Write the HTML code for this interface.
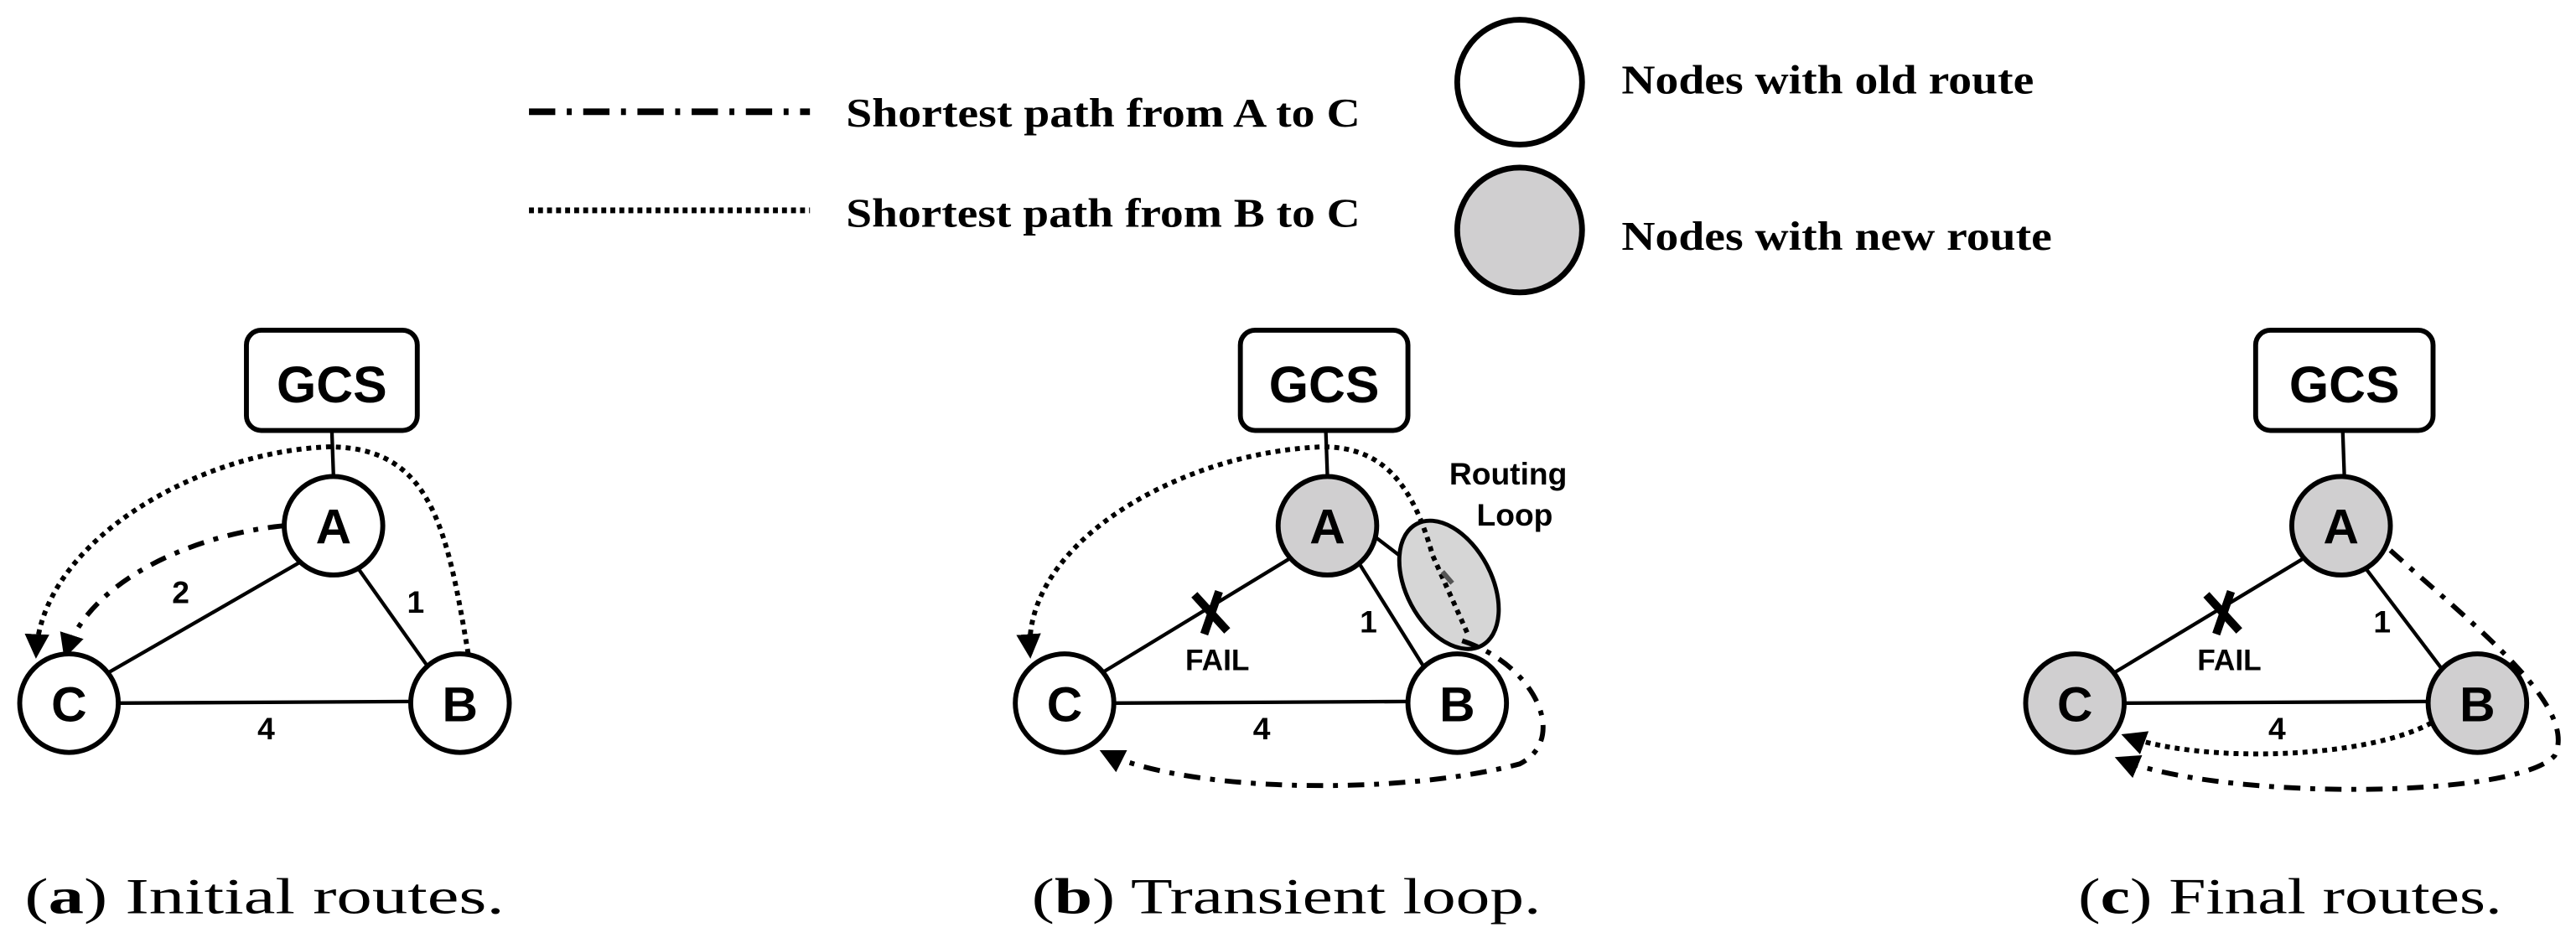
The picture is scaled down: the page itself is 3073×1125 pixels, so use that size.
<!DOCTYPE html>
<html><head><meta charset="utf-8"><style>
html,body{margin:0;padding:0;background:#fff;}
svg{display:block;}
.sans{font-family:"Liberation Sans",sans-serif;font-weight:bold;}
.serif{font-family:"Liberation Serif",serif;}
</style></head><body>
<svg width="3073" height="1125" viewBox="0 0 1568 574" xmlns="http://www.w3.org/2000/svg">
<defs>
<marker id="ar" viewBox="0 0 10 10" refX="8" refY="5" markerWidth="5" markerHeight="5" orient="auto" markerUnits="strokeWidth">
<path d="M0,0 L10,5 L0,10 z" fill="#000"/></marker>
</defs>
<rect width="1568" height="574" fill="#fff"/>
<!-- legend -->
<line x1="322" y1="68" x2="493" y2="68" stroke="#000" stroke-width="4" stroke-dasharray="16,7,3,7"/>
<line x1="322" y1="128" x2="493" y2="128" stroke="#000" stroke-width="3.5" stroke-dasharray="3,2.5"/>
<text x="515" y="77" class="serif" font-weight="bold" font-size="25" textLength="313" lengthAdjust="spacingAndGlyphs">Shortest path from A to C</text>
<text x="515" y="138" class="serif" font-weight="bold" font-size="25" textLength="313" lengthAdjust="spacingAndGlyphs">Shortest path from B to C</text>
<circle cx="925" cy="50" r="38" fill="#fff" stroke="#000" stroke-width="3.5"/>
<circle cx="925" cy="140" r="38" fill="#d0cfd0" stroke="#000" stroke-width="3.5"/>
<text x="987" y="57" class="serif" font-weight="bold" font-size="25" textLength="251" lengthAdjust="spacingAndGlyphs">Nodes with old route</text>
<text x="987" y="152" class="serif" font-weight="bold" font-size="25" textLength="262" lengthAdjust="spacingAndGlyphs">Nodes with new route</text>

<!-- panel a -->
<g stroke="#000" stroke-width="2.2" fill="none">
<line x1="202" y1="262" x2="203" y2="290"/>
<line x1="183" y1="342" x2="65" y2="410"/>
<line x1="218" y1="346" x2="262" y2="408"/>
<line x1="72" y1="428" x2="250" y2="427"/>
</g>
<rect x="150" y="201" width="104" height="61" rx="9" fill="#fff" stroke="#000" stroke-width="3"/>
<text x="202" y="245" text-anchor="middle" class="sans" font-size="31">GCS</text>
<path d="M285,398 C272,320 262,272 200,272 C120,275 25,330 22,398" fill="none" stroke="#000" stroke-width="3" stroke-dasharray="3,3" marker-end="url(#ar)"/>
<path d="M173,320 C120,325 55,352 40,398" fill="none" stroke="#000" stroke-width="3" stroke-dasharray="10,6,3,6" marker-end="url(#ar)"/>
<g stroke="#000" stroke-width="3" fill="#fff">
<circle cx="203" cy="320" r="30"/><circle cx="42" cy="428" r="30"/><circle cx="280" cy="428" r="30"/>
</g>
<g class="sans" font-size="30" text-anchor="middle">
<text x="203" y="331">A</text><text x="42" y="439">C</text><text x="280" y="439">B</text>
</g>
<g class="sans" font-size="19" text-anchor="middle" font-weight="normal">
<text x="110" y="367">2</text><text x="253" y="373">1</text><text x="162" y="450">4</text>
</g>

<!-- panel b -->
<g stroke="#000" stroke-width="2.2" fill="none">
<line x1="807" y1="262" x2="808" y2="290"/>
<line x1="785" y1="340" x2="670" y2="410"/>
<line x1="828" y1="344" x2="868" y2="408"/>
<line x1="678" y1="428" x2="857" y2="427"/>
<line x1="836" y1="326" x2="870" y2="352"/>
</g>
<rect x="755" y="201" width="102" height="61" rx="9" fill="#fff" stroke="#000" stroke-width="3"/>
<text x="806" y="245" text-anchor="middle" class="sans" font-size="31">GCS</text>
<ellipse cx="882" cy="356" rx="26" ry="42" transform="rotate(-28 882 356)" fill="#d6d6d6" stroke="#000" stroke-width="2.5"/>
<path d="M893,385 L872,338 C860,295 842,272 805,272 C720,275 622,330 627,398" fill="none" stroke="#000" stroke-width="3" stroke-dasharray="3,3" marker-end="url(#ar)"/>
<path d="M890,390 C935,405 955,450 925,465 C850,485 720,482 672,458" fill="none" stroke="#000" stroke-width="3" stroke-dasharray="10,6,3,6" marker-end="url(#ar)"/>
<path d="M878,348 L884,355" stroke="#555" stroke-width="3"/>
<g stroke="#000" stroke-width="3">
<circle cx="808" cy="320" r="30" fill="#d0cfd0"/><circle cx="648" cy="428" r="30" fill="#fff"/><circle cx="887" cy="428" r="30" fill="#fff"/>
</g>
<g class="sans" font-size="30" text-anchor="middle">
<text x="808" y="331">A</text><text x="648" y="439">C</text><text x="887" y="439">B</text>
</g>
<path d="M727,362 L747,384 M742,360 L733,386" stroke="#000" stroke-width="5"/>
<g class="sans" text-anchor="middle">
<text x="741" y="408" font-size="18">FAIL</text>
<text x="918" y="295" font-size="19">Routing</text>
<text x="922" y="320" font-size="19">Loop</text>
</g>
<g class="sans" font-size="19" text-anchor="middle" font-weight="normal">
<text x="833" y="385">1</text><text x="768" y="450">4</text>
</g>

<!-- panel c -->
<g stroke="#000" stroke-width="2.2" fill="none">
<line x1="1426" y1="262" x2="1427" y2="290"/>
<line x1="1402" y1="340" x2="1286" y2="410"/>
<line x1="1440" y1="346" x2="1487" y2="408"/>
<line x1="1293" y1="428" x2="1478" y2="427"/>
</g>
<rect x="1373" y="201" width="108" height="61" rx="9" fill="#fff" stroke="#000" stroke-width="3"/>
<text x="1427" y="245" text-anchor="middle" class="sans" font-size="31">GCS</text>
<path d="M1455,335 C1505,380 1570,430 1555,460 C1530,487 1350,487 1290,462" fill="none" stroke="#000" stroke-width="3" stroke-dasharray="10,6,3,6" marker-end="url(#ar)"/>
<path d="M1480,440 C1440,462 1340,465 1294,448" fill="none" stroke="#000" stroke-width="3" stroke-dasharray="3,3" marker-end="url(#ar)"/>
<g stroke="#000" stroke-width="3" fill="#d0cfd0">
<circle cx="1425" cy="320" r="30"/><circle cx="1263" cy="428" r="30"/><circle cx="1508" cy="428" r="30"/>
</g>
<g class="sans" font-size="30" text-anchor="middle">
<text x="1425" y="331">A</text><text x="1263" y="439">C</text><text x="1508" y="439">B</text>
</g>
<path d="M1343,362 L1363,384 M1358,360 L1349,386" stroke="#000" stroke-width="5"/>
<text x="1357" y="408" class="sans" font-size="18" text-anchor="middle">FAIL</text>
<g class="sans" font-size="19" text-anchor="middle" font-weight="normal">
<text x="1450" y="385">1</text><text x="1386" y="450">4</text>
</g>

<!-- captions -->
<g class="serif" font-size="31">
<text x="15" y="556" textLength="292" lengthAdjust="spacingAndGlyphs">(<tspan font-weight="bold">a</tspan>) Initial routes.</text>
<text x="628" y="556" textLength="310" lengthAdjust="spacingAndGlyphs">(<tspan font-weight="bold">b</tspan>) Transient loop.</text>
<text x="1265" y="556" textLength="258" lengthAdjust="spacingAndGlyphs">(<tspan font-weight="bold">c</tspan>) Final routes.</text>
</g>
</svg>
</body></html>
